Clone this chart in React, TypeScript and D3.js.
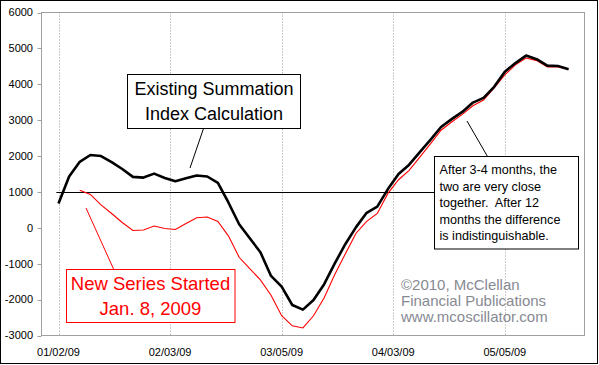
import * as d3 from "d3";
import * as React from "react";

// trading-day index of each date label on the x axis
const tickDays = [0, 21, 42, 63, 84];
const tickLabels = ["01/02/09", "02/03/09", "03/05/09", "04/03/09", "05/05/09"];
const yTicks = [6000, 5000, 4000, 3000, 2000, 1000, 0, -1000, -2000, -3000];

// values read every 2 trading days
const dayStep = 2;
const existingStart = 0;
const existingValues = [
  680, 1430, 1840, 2030, 2000, 1830, 1640, 1420, 1400, 1510, 1390, 1300, 1380,
  1460, 1430, 1250, 700, 100, -290, -680, -1340, -1640, -2150, -2280, -2010,
  -1570, -990, -450, 20, 420, 590, 1080, 1500, 1760, 2110, 2450, 2810, 3030,
  3230, 3490, 3620, 3930, 4350, 4590, 4800, 4700, 4520, 4510, 4420,
];
const newStart = 4; // Jan. 8, 2009
const newValues = [
  1050, 930, 640, 400, 150, -75, -60, 50, -20, -45, 120, 280, 300, 180, -230,
  -820, -1140, -1450, -1880, -2450, -2730, -2790, -2450, -1950, -1300, -720,
  -150, 180, 400, 960, 1340, 1600, 1970, 2340, 2720, 2950, 3160, 3400, 3560,
  3900, 4260, 4540, 4730, 4660, 4480, 4480, 4420,
];
const crossLevel = 1000;

const existingNote = ["Existing Summation", "Index Calculation"];
const newNote = ["New Series Started", "Jan. 8, 2009"];
const closeNote = [
  "After 3-4 months, the",
  "two are very close",
  "together.  After 12",
  "months the difference",
  "is indistinguishable.",
];
const credit = ["©2010, McClellan", "Financial Publications", "www.mcoscillator.com"];

const FONT = "'Liberation Sans', Arial, sans-serif";

export default function App() {
  const ref = React.useRef<SVGSVGElement>(null);

  React.useEffect(() => {
    const width = 599;
    const height = 365;
    const svg = d3.select(ref.current).attr("viewBox", [0, 0, width, height]);
    svg.selectAll("*").remove();

    const left = 41.5, right = 584.5, top = 12.5, bottom = 335.5;
    const x = d3.scaleLinear().domain([-3.2, 99]).range([left, right]);
    const y = d3.scaleLinear().domain([-3000, 6000]).range([bottom, top]);

    svg.append("rect").attr("width", width).attr("height", height).attr("fill", "#fff");
    svg
      .append("rect")
      .attr("x", 0.5)
      .attr("y", 0.5)
      .attr("width", 597)
      .attr("height", 363)
      .attr("fill", "none")
      .attr("stroke", "#000");

    // vertical dotted grid
    svg
      .append("g")
      .selectAll("line")
      .data(tickDays)
      .join("line")
      .attr("x1", (d) => Math.round(x(d)) + 0.5)
      .attr("x2", (d) => Math.round(x(d)) + 0.5)
      .attr("y1", top)
      .attr("y2", bottom)
      .attr("stroke", "#999")
      .attr("stroke-dasharray", "1,2");

    svg
      .append("rect")
      .attr("x", left)
      .attr("y", top)
      .attr("width", right - left)
      .attr("height", bottom - top)
      .attr("fill", "none")
      .attr("stroke", "#a0a0a0");

    // y ticks + labels
    svg
      .append("g")
      .selectAll("line")
      .data(yTicks)
      .join("line")
      .attr("x1", left - 4)
      .attr("x2", left)
      .attr("y1", (d) => Math.round(y(d)) + 0.5)
      .attr("y2", (d) => Math.round(y(d)) + 0.5)
      .attr("stroke", "#a0a0a0");
    svg
      .append("g")
      .selectAll("text")
      .data(yTicks)
      .join("text")
      .attr("x", 33)
      .attr("y", (d) => y(d))
      .attr("dy", "0.35em")
      .attr("text-anchor", "end")
      .attr("font-family", FONT)
      .attr("font-size", 11)
      .text((d) => String(d));

    // x labels
    svg
      .append("g")
      .selectAll("text")
      .data(tickDays)
      .join("text")
      .attr("x", (d) => x(d))
      .attr("y", 356)
      .attr("text-anchor", "middle")
      .attr("font-family", FONT)
      .attr("font-size", 11)
      .text((d, i) => tickLabels[i]);

    // 1000 level leader line to the right-hand box
    const boxL = 434.5;
    svg
      .append("line")
      .attr("x1", x(-0.4))
      .attr("x2", boxL)
      .attr("y1", Math.round(y(crossLevel)) + 0.5)
      .attr("y2", Math.round(y(crossLevel)) + 0.5)
      .attr("stroke", "#000");

    const line = d3
      .line<number>()
      .x((d, i) => x(i * dayStep))
      .y((d) => y(d));

    svg
      .append("path")
      .datum(newValues)
      .attr("fill", "none")
      .attr("stroke", "#f00")
      .attr("stroke-width", 1.1)
      .attr("transform", `translate(${x(newStart) - x(0)},0)`)
      .attr("d", line);

    svg
      .append("path")
      .datum(existingValues)
      .attr("fill", "none")
      .attr("stroke", "#000")
      .attr("stroke-width", 2.6)
      .attr("stroke-linejoin", "round")
      .attr("transform", `translate(${x(existingStart) - x(0)},0)`)
      .attr("d", line);

    // annotation: existing calculation
    svg
      .append("line")
      .attr("x1", 203.5)
      .attr("y1", 128.5)
      .attr("x2", 190)
      .attr("y2", 168)
      .attr("stroke", "#000");
    svg
      .append("rect")
      .attr("x", 127.5)
      .attr("y", 74.5)
      .attr("width", 173)
      .attr("height", 54)
      .attr("fill", "#fff")
      .attr("stroke", "#000");
    svg
      .append("g")
      .selectAll("text")
      .data(existingNote)
      .join("text")
      .attr("x", 214)
      .attr("y", (d, i) => 95 + i * 24.5)
      .attr("text-anchor", "middle")
      .attr("font-family", FONT)
      .attr("font-size", 18)
      .text((d) => d);

    // annotation: new series
    svg
      .append("line")
      .attr("x1", 86)
      .attr("y1", 208)
      .attr("x2", 114)
      .attr("y2", 270)
      .attr("stroke", "#f00");
    svg
      .append("rect")
      .attr("x", 66.5)
      .attr("y", 269.5)
      .attr("width", 168.5)
      .attr("height", 53)
      .attr("fill", "#fff")
      .attr("stroke", "#f00");
    svg
      .append("g")
      .selectAll("text")
      .data(newNote)
      .join("text")
      .attr("x", 150.5)
      .attr("y", (d, i) => 290 + i * 25)
      .attr("text-anchor", "middle")
      .attr("font-family", FONT)
      .attr("font-size", 18.5)
      .attr("fill", "#f00")
      .text((d) => d);

    // annotation: close together
    svg
      .append("line")
      .attr("x1", 487.5)
      .attr("y1", 156.5)
      .attr("x2", 467)
      .attr("y2", 121)
      .attr("stroke", "#000");
    svg
      .append("rect")
      .attr("x", boxL)
      .attr("y", 156.5)
      .attr("width", 144)
      .attr("height", 92.5)
      .attr("fill", "#fff")
      .attr("stroke", "#000");
    svg
      .append("g")
      .selectAll("text")
      .data(closeNote)
      .join("text")
      .attr("x", 439.5)
      .attr("y", (d, i) => 174 + i * 16.5)
      .attr("font-family", FONT)
      .attr("font-size", 12.6)
      .attr("xml:space", "preserve")
      .style("white-space", "pre")
      .text((d) => d);

    // credit
    svg
      .append("g")
      .selectAll("text")
      .data(credit)
      .join("text")
      .attr("x", 401)
      .attr("y", (d, i) => 290 + i * 16)
      .attr("font-family", FONT)
      .attr("font-size", 15)
      .attr("fill", "#878a93")
      .text((d) => d);
  }, []);

  return (
    <svg
      ref={ref}
      width={599}
      height={365}
      style={{ position: "absolute", left: 0, top: 0, display: "block" }}
    ></svg>
  );
}
